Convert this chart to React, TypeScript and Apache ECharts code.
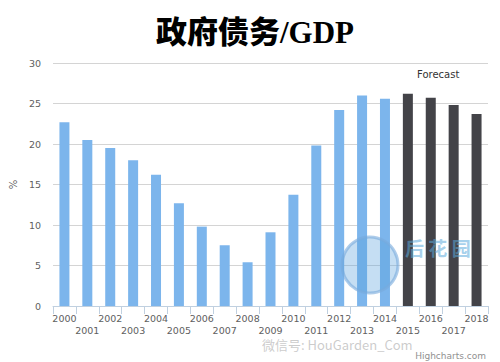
import React, { useEffect, useRef } from "react";
import * as echarts from "echarts";

const categories = [
  "2000", "2001", "2002", "2003", "2004", "2005", "2006", "2007", "2008", "2009",
  "2010", "2011", "2012", "2013", "2014", "2015", "2016", "2017", "2018",
];
const debtToGdp = [
  22.7, 20.5, 19.5, 18.0, 16.2, 12.7, 9.8, 7.5, 5.4, 9.1,
  13.75, 19.8, 24.2, 26.0, 25.6, 26.2, 25.7, 24.8, 23.7,
];
const forecastFrom = "2015";
const forecastTo = "2018";
const yTicks = { min: 0, max: 30, interval: 5 };

const HISTORY_COLOR = "#7cb5ec";
const FORECAST_COLOR = "#434348";
const LABEL_COLOR = "#606060";
const FONT = "'DejaVu Sans', Verdana, sans-serif";

export default function App() {
  const ref = useRef<HTMLDivElement>(null);

  useEffect(() => {
    if (!ref.current) return;
    const chart = echarts.init(ref.current, null, { renderer: "svg" });
    const fIdx = categories.indexOf(forecastFrom);

    chart.setOption({
      animation: false,
      backgroundColor: "#ffffff",
      title: {
        text: "政府债务/GDP",
        left: 250,
        textAlign: "center",
        top: 12,
        textStyle: {
          fontFamily: "'Liberation Serif', 'Noto Sans CJK SC', serif",
          fontWeight: 900,
          fontSize: 31,
          color: "#000000",
        },
      },
      grid: { left: 45, right: 12, top: 63, bottom: 56 },
      xAxis: {
        type: "category",
        data: categories,
        axisLine: { lineStyle: { color: "#C0D0E0", width: 1 } },
        axisTick: { show: true, length: 8, interval: 0, lineStyle: { color: "#C0D0E0" } },
        axisLabel: {
          interval: 0,
          margin: 6,
          color: LABEL_COLOR,
          fontFamily: FONT,
          fontSize: 9.5,
          lineHeight: 12,
          formatter: (v: string, i: number) => (i % 2 === 1 ? "\n" + v : v),
        },
        splitLine: { show: false },
      },
      yAxis: {
        type: "value",
        min: yTicks.min,
        max: yTicks.max,
        interval: yTicks.interval,
        name: "%",
        nameLocation: "middle",
        nameGap: 33,
        nameRotate: 90,
        nameTextStyle: { color: LABEL_COLOR, fontFamily: FONT, fontSize: 10 },
        axisLine: { show: false },
        axisTick: { show: false },
        axisLabel: { margin: 12, color: LABEL_COLOR, fontFamily: FONT, fontSize: 9.5 },
        splitLine: { lineStyle: { color: "#D4D4D4", width: 1 } },
      },
      series: [
        {
          type: "bar",
          barWidth: 10,
          data: debtToGdp.map((v, i) => ({
            value: v,
            itemStyle: { color: i >= fIdx ? FORECAST_COLOR : HISTORY_COLOR },
          })),
          markArea: {
            silent: true,
            itemStyle: { color: "rgba(0,0,0,0)" },
            label: {
              show: true,
              position: "insideTop",
              distance: 6,
              offset: [-4, 0],
              color: "#333333",
              fontFamily: FONT,
              fontSize: 10,
            },
            data: [[{ xAxis: forecastFrom, name: "Forecast" }, { xAxis: forecastTo }]],
          },
        },
      ],
      graphic: [
        {
          type: "circle",
          shape: { cx: 370, cy: 265, r: 28 },
          style: { fill: "rgba(90,160,220,0.35)", stroke: "rgba(120,170,220,0.6)", lineWidth: 3 },
          z: 10,
        },
        {
          type: "text",
          left: 405,
          top: 238,
          style: {
            text: "后 花 园",
            font: "bold 19px 'Noto Sans CJK SC'",
            fill: "rgba(90,170,220,0.55)",
          },
          z: 10,
        },
        {
          type: "text",
          left: 262,
          top: 338,
          style: {
            text: "微信号: HouGarden_Com",
            font: "13px 'Noto Sans CJK SC', 'DejaVu Sans'",
            fill: "rgba(170,170,170,0.6)",
          },
          z: 10,
        },
        {
          type: "text",
          right: 14,
          top: 351,
          style: {
            text: "Highcharts.com",
            font: "9px 'DejaVu Sans'",
            fill: "#909090",
          },
        },
      ],
    });

    return () => chart.dispose();
  }, []);

  return (
    <div
      ref={ref}
      style={{ position: "fixed", left: 0, top: 0, width: 500, height: 362 }}
    />
  );
}
